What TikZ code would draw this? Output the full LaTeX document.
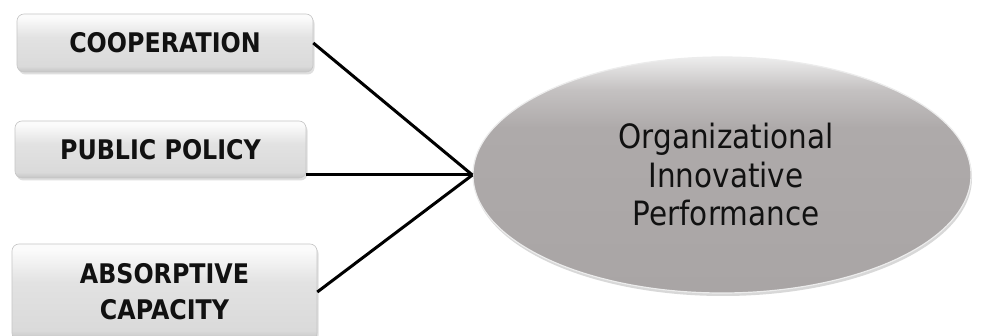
\documentclass[tikz,border=0pt]{standalone}
\usepackage{fontspec}
\newfontfamily\diafont[FakeStretch=0.88]{DejaVu Sans}
\usetikzlibrary{shadows,shapes.geometric}
\definecolor{boxbot}{HTML}{C4C4C4}
\definecolor{boxmid}{HTML}{DADADA}
\definecolor{boxmidb}{HTML}{E2E2E2}
\definecolor{boxtop}{HTML}{FBFBFB}
\definecolor{ellbot}{HTML}{A9A5A5}
\definecolor{ellmid}{HTML}{AEAAAA}
\definecolor{ellup}{HTML}{C4C1C1}
\definecolor{elltop}{HTML}{EDEDED}
\definecolor{txt}{HTML}{111111}
\pgfdeclareverticalshading{boxshade}{100bp}{color(0bp)=(boxbot); color(25bp)=(boxbot); color(30bp)=(boxmid); color(55bp)=(boxmidb); color(72bp)=(boxtop); color(100bp)=(boxtop)}
\pgfdeclareverticalshading{ellshade}{100bp}{color(0bp)=(ellbot); color(25bp)=(ellbot); color(60bp)=(ellmid); color(68bp)=(ellup); color(75bp)=(elltop); color(100bp)=(elltop)}
\tikzset{
  inbox/.style={rectangle, rounded corners=7pt, shading=boxshade, draw=gray!45,
    line width=0.6pt, drop shadow={opacity=0.25, shadow xshift=1.5pt, shadow yshift=-2.5pt},
    font=\diafont\bfseries\fontsize{27}{36}\selectfont, text=txt, align=center, inner sep=0pt},
  outell/.style={ellipse, shading=ellshade, draw=white!85!gray, line width=1.2pt,
    drop shadow={opacity=0.3, shadow xshift=1pt, shadow yshift=-3pt},
    font=\diafont\fontsize{33.5}{38.5}\selectfont, text=txt, align=center, inner sep=0pt},
  conn/.style={draw=black, line width=3pt}
}
\begin{document}
\begin{tikzpicture}[x=1pt,y=-1pt]
\useasboundingbox (0,0) rectangle (993,336);
\fill[white] (0,0) rectangle (993,336);
\node[inbox, minimum width=296pt, minimum height=58pt] (coop) at (165,43) {COOPERATION};
\node[inbox, minimum width=291pt, minimum height=57pt] (pub) at (160.5,149.5) {PUBLIC POLICY};
\node[inbox, minimum width=305pt, minimum height=96pt] (abs) at (164.5,292) {ABSORPTIVE\\CAPACITY};
\node[outell, minimum width=498pt, minimum height=236pt] (perf) at (722,175) {\hspace*{8pt}Organizational\\\hspace*{8pt}Innovative\\\hspace*{8pt}Performance};
\draw[conn] (coop.east) -- (perf.west);
\draw[conn] (pub.east |- perf.west) -- (perf.west);
\draw[conn] (abs.east) -- (perf.west);
\end{tikzpicture}
\end{document}
